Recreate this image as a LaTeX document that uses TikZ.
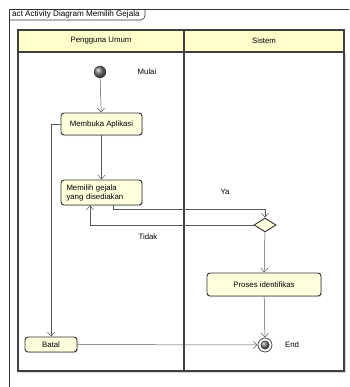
\documentclass[tikz,border=0pt]{standalone}
\usepackage{fontspec}
\setmainfont{Liberation Sans}
\usepackage{tikz}
\usetikzlibrary{arrows.meta, shapes.geometric, shadows}

\definecolor{actfill}{RGB}{255,255,222}
\definecolor{headfill}{RGB}{255,255,204}

\begin{document}
\begin{tikzpicture}[x=1pt, y=-1pt,
    font=\fontsize{7.8}{9}\selectfont,
    actbox/.style={draw=black!80, line width=0.9pt, rounded corners=3pt, fill=actfill, minimum width=81pt, align=center, drop shadow={shadow xshift=1.2pt, shadow yshift=-1.2pt, opacity=0.25}},
    lanehead/.style={draw=black!75, line width=1.1pt, fill=headfill, minimum height=22pt, inner sep=0pt},
    lane/.style={draw=black!75, line width=1.1pt, fill=white, drop shadow={shadow xshift=1.5pt, shadow yshift=-1.5pt, opacity=0.3}},
    flow/.style={-{Straight Barb[length=4pt, width=7pt]}, draw=black!65, line width=0.5pt},
    lbl/.style={inner sep=1pt}
]
    \useasboundingbox (0,0) rectangle (349,387);
    \clip (0,0) rectangle (349,387);

    % frame
    \draw[black!80, line width=0.6pt] (9,400) -- (9,9) -- (360,9);
    \draw[black!80, line width=0.6pt] (9,20) -- (141,20) to[out=0, in=-90] (145,15) -- (145,9);
    \node[lbl, anchor=west, font=\fontsize{8.1}{10}\selectfont] (title) at (11,14.5) {act Activity Diagram Memilih Gejala};

    % swimlanes
    \draw[lane] (18,52) rectangle (184,371);
    \draw[lane] (184,52) rectangle (344,371);
    \node[lanehead, minimum width=166pt] (lane1) at (101,41) {Pengguna Umum};
    \node[lanehead, minimum width=160pt] (lane2) at (264,41) {Sistem};

    \node[circle, minimum size=12pt, inner sep=0pt, shading=ball, ball color=black!55, draw=black!70] (start) at (100,72) {};
    \node[lbl] (mulai) at (147,72) {Mulai};

    \node[actbox, minimum height=22pt] (open) at (101.5,124) {Membuka Aplikasi};
    \node[actbox, minimum height=25pt, text width=70pt, align=left, inner sep=0pt] (choose) at (101.5,192.5) {Memilih gejala\\yang disediakan};
    \node[diamond, draw=black!80, line width=0.9pt, fill=actfill, minimum width=22pt, minimum height=14pt, inner sep=0pt] (decide) at (265,225) {};
    \node[actbox, minimum width=114pt, minimum height=23pt] (proses) at (264,284.5) {Proses identifikas};
    \node[actbox, minimum width=52pt, minimum height=15pt, inner sep=0pt] (batal) at (51,344.5) {Batal};
    \node[circle, draw=black!75, line width=0.7pt, fill=white, minimum size=14pt, inner sep=0pt] (stop) at (265,345) {};
    \node[circle, shading=ball, ball color=black!55, minimum size=9pt, inner sep=0pt] (stopdot) at (stop) {};
    \node[lbl, anchor=west] (endlbl) at (284,345) {End};

    \node[lbl] (ya) at (225,192) {Ya};
    \node[lbl] (tidak) at (148,237) {Tidak};

    \draw[flow] (start) -- (open);
    \draw[flow] (open) -- (choose);
    \draw[flow] (open.west) -| (batal.north);
    \draw[flow] ([xshift=11.5pt]choose.south) -- ++(0,4) -| (decide.north);
    \draw[flow] (decide.west) -| ([xshift=-11.5pt]choose.south);
    \draw[flow] (decide) -- (proses);
    \draw[flow] (proses) -- (stop);
    \draw[flow] (batal) -- (stop);
\end{tikzpicture}
\end{document}
